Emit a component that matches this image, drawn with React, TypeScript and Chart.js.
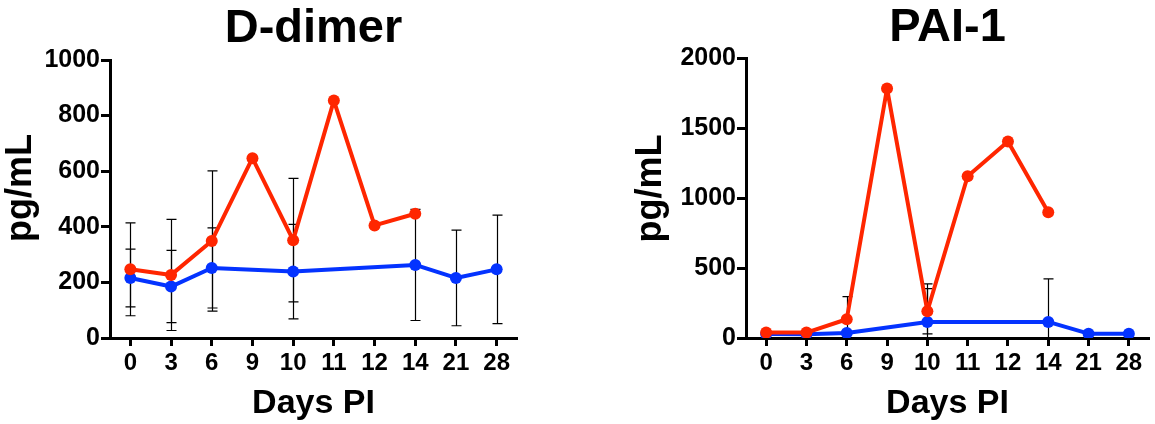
import React, { useEffect, useRef } from 'react';
import { Chart, registerables } from 'chart.js';

Chart.register(...registerables);

// ---- data ----
const days = ['0', '3', '6', '9', '10', '11', '12', '14', '21', '28'];

const ddimerRed: (number | null)[] = [247, 227, 349, 647, 352, 854, 405, 447, null, null];
const ddimerRedErr: (number | null)[] = [167, 200, 252, null, 222, null, null, null, null, null];
const ddimerBlue: (number | null)[] = [216, 185, 252, null, 239, null, null, 263, 216, 247];
const ddimerBlueErr: (number | null)[] = [104, 130, 144, null, 170, null, null, 200, 172, 195];

const paiRed: (number | null)[] = [39, 39, 134, 1782, 191, 1155, 1403, 898, null, null];
const paiRedErr: (number | null)[] = [null, null, 162, null, 162, null, null, null, null, null];
const paiBlue: (number | null)[] = [28, 27, 36, null, 115, null, null, 115, 31, 31];
const paiBlueErr: (number | null)[] = [null, null, null, null, 272, null, null, 307, null, null];

const ddimerTicks = { max: 1000, step: 200 };
const paiTicks = { max: 2000, step: 500 };

// ---- style ----
const FONT = '"Liberation Sans", Arial, Helvetica, sans-serif';
const RED = '#FF2600';
const BLUE = '#0433FF';

const textPlugin = {
  id: 'panelText',
  afterDraw(chart: any, _args: any, opts: any) {
    const { ctx, chartArea } = chart;
    ctx.save();
    ctx.fillStyle = '#000';
    ctx.textAlign = 'center';
    ctx.textBaseline = 'middle';
    ctx.font = `bold 47px ${FONT}`;
    ctx.fillText(opts.title, (chartArea.left + chartArea.right) / 2, opts.titleY);
    ctx.translate(opts.yTitleX, opts.yTitleY);
    ctx.rotate(-Math.PI / 2);
    ctx.font = `bold 36px ${FONT}`;
    ctx.fillText(opts.yTitle, 0, 0);
    ctx.restore();
  },
};

const errorBarPlugin = {
  id: 'errorBars',
  beforeDatasetsDraw(chart: any) {
    const { ctx, chartArea } = chart;
    const xs = chart.scales.x;
    const ys = chart.scales.y;
    ctx.save();
    ctx.beginPath();
    ctx.rect(chartArea.left, chartArea.top - 3, chartArea.right - chartArea.left, chartArea.bottom - chartArea.top + 3);
    ctx.clip();
    ctx.strokeStyle = '#000';
    ctx.lineWidth = 1.2;
    chart.data.datasets.forEach((ds: any) => {
      const errs = ds.errors as (number | null)[] | undefined;
      if (!errs) return;
      ds.data.forEach((v: number | null, i: number) => {
        const e = errs[i];
        if (v == null || e == null) return;
        const px = Math.round(xs.getPixelForValue(i)) + 0.5;
        const hi = v + e;
        const lo = v - e;
        const yHi = ys.getPixelForValue(hi);
        const yLo = ys.getPixelForValue(Math.max(lo, 0));
        ctx.beginPath();
        ctx.moveTo(px, yHi);
        ctx.lineTo(px, yLo);
        ctx.moveTo(px - 5, yHi);
        ctx.lineTo(px + 5, yHi);
        if (lo >= 0) {
          ctx.moveTo(px - 5, yLo);
          ctx.lineTo(px + 5, yLo);
        }
        ctx.stroke();
      });
    });
    ctx.restore();
  },
};

type PanelProps = {
  title: string;
  red: (number | null)[];
  redErr: (number | null)[];
  blue: (number | null)[];
  blueErr: (number | null)[];
  yMax: number;
  yStep: number;
  left: number;
  width: number;
  yAxisWidth: number;
  padTop: number;
  padRight: number;
  titleY: number;
  yTitleX: number;
  yTitleY: number;
};

function Panel(p: PanelProps) {
  const ref = useRef<HTMLCanvasElement>(null);
  useEffect(() => {
    const lineDs = (data: (number | null)[], errors: (number | null)[], color: string) => ({
      data,
      errors,
      borderColor: color,
      backgroundColor: color,
      borderWidth: 4,
      borderJoinStyle: 'round',
      borderCapStyle: 'round',
      pointRadius: 6,
      pointHoverRadius: 6,
      pointBorderWidth: 0,
      pointBackgroundColor: color,
      tension: 0,
      spanGaps: true,
    });
    const chart = new Chart(ref.current as HTMLCanvasElement, {
      type: 'line',
      data: {
        labels: days,
        datasets: [lineDs(p.red, p.redErr, RED) as any, lineDs(p.blue, p.blueErr, BLUE) as any],
      },
      options: {
        responsive: false,
        animation: false,
        devicePixelRatio: 1,
        layout: { padding: { top: p.padTop, right: p.padRight, left: 0, bottom: 0 } },
        plugins: {
          legend: { display: false },
          tooltip: { enabled: false },
          title: { display: false },
          panelText: { title: p.title, titleY: p.titleY, yTitle: 'pg/mL', yTitleX: p.yTitleX, yTitleY: p.yTitleY },
        } as any,
        scales: {
          x: {
            type: 'category',
            offset: true,
            grid: {
              display: true,
              drawOnChartArea: false,
              drawTicks: true,
              tickLength: 8,
              tickWidth: 3,
              tickColor: '#000',
              offset: false,
            },
            border: { display: true, color: '#000', width: 3 },
            ticks: {
              color: '#000',
              padding: 3,
              maxRotation: 0,
              autoSkip: false,
              font: { family: FONT, size: 24, weight: 'bold' },
            },
            title: {
              display: true,
              text: 'Days PI',
              color: '#000',
              padding: { top: 0, bottom: 0 },
              font: { family: FONT, size: 34, weight: 'bold' },
            },
            afterFit: (scale: any) => {
              scale.height = 86;
            },
          },
          y: {
            type: 'linear',
            min: 0,
            max: p.yMax,
            grid: {
              display: true,
              drawOnChartArea: false,
              drawTicks: true,
              tickLength: 9,
              tickWidth: 3,
              tickColor: '#000',
            },
            border: { display: true, color: '#000', width: 3 },
            ticks: {
              stepSize: p.yStep,
              color: '#000',
              padding: 1,
              font: { family: FONT, size: 25, weight: 'bold' },
              callback: (v: any) => String(v),
            },
            title: { display: false },
            afterFit: (scale: any) => {
              scale.width = p.yAxisWidth;
            },
          },
        },
      } as any,
      plugins: [errorBarPlugin, textPlugin],
    });
    return () => chart.destroy();
  }, []);
  return (
    <canvas
      ref={ref}
      width={p.width}
      height={424}
      style={{ position: 'absolute', left: p.left, top: 0, width: p.width, height: 424 }}
    />
  );
}

export default function App() {
  return (
    <div style={{ position: 'fixed', left: 0, top: 0, width: 1155, height: 424, background: '#fff', overflow: 'hidden' }}>
      <Panel
        title="D-dimer"
        red={ddimerRed}
        redErr={ddimerRedErr}
        blue={ddimerBlue}
        blueErr={ddimerBlueErr}
        yMax={ddimerTicks.max}
        yStep={ddimerTicks.step}
        left={0}
        width={560}
        yAxisWidth={110}
        padTop={60}
        padRight={43}
        titleY={29}
        yTitleX={21}
        yTitleY={188}
      />
      <Panel
        title="PAI-1"
        red={paiRed}
        redErr={paiRedErr}
        blue={paiBlue}
        blueErr={paiBlueErr}
        yMax={paiTicks.max}
        yStep={paiTicks.step}
        left={560}
        width={595}
        yAxisWidth={186}
        padTop={58}
        padRight={0}
        titleY={28.5}
        yTitleX={91}
        yTitleY={188.5}
      />
    </div>
  );
}
